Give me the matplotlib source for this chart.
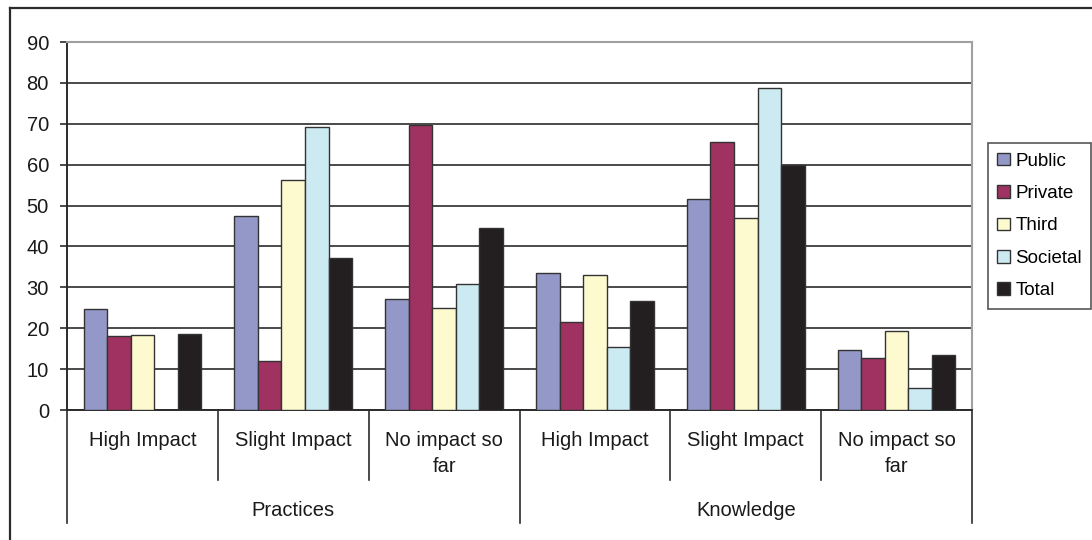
import numpy as np
import matplotlib
matplotlib.use("Agg")
import matplotlib.pyplot as plt
from matplotlib.lines import Line2D

plt.rcParams['font.family'] = ['Liberation Sans', 'DejaVu Sans']

# Data: share of respondents (%) by sector
groups = ["Practices", "Knowledge"]
categories = ["High Impact", "Slight Impact", "No impact so\nfar",
              "High Impact", "Slight Impact", "No impact so\nfar"]
series = ["Public", "Private", "Third", "Societal", "Total"]
public = [24.6, 47.4, 27.2, 33.5, 51.7, 14.6]
private = [18.0, 11.9, 69.7, 21.5, 65.6, 12.6]
third = [18.4, 56.3, 24.9, 33.1, 46.9, 19.2]
societal = [0, 69.1, 30.8, 15.3, 78.7, 5.3]
total = [18.5, 37.1, 44.4, 26.6, 59.9, 13.4]
colors = ["#9498C8", "#A03262", "#FEFACF", "#CCEAF2", "#231F20"]

W, H = 1092, 540
fig = plt.figure(figsize=(W / 100, H / 100), dpi=100)

# plot area in pixel coordinates
left, right, top, bottom = 67, 972, 42, 410
ax = fig.add_axes([left / W, (H - bottom) / H, (right - left) / W, (bottom - top) / H])

x = np.arange(len(categories))
bw = 0.156
for i, (name, vals) in enumerate(zip(series, [public, private, third, societal, total])):
    ax.bar(x + (i - 2) * bw, vals, width=bw, color=colors[i], edgecolor="#333333",
           linewidth=1.0, label=name, zorder=3)

ax.set_xlim(-0.5, len(categories) - 0.5)
ax.set_ylim(0, 90)
ax.set_yticks(range(0, 91, 10))
ax.yaxis.grid(True, color="#2b2b2b", linewidth=1.2, zorder=0)
ax.tick_params(axis="y", labelsize=14.5, length=5, width=1.2, pad=8, color="#2b2b2b",
               labelcolor="#1a1a1a")
ax.set_xticks([])

for side in ["top", "right"]:
    ax.spines[side].set_color("#a0a0a0")
    ax.spines[side].set_linewidth(1.5)
for side in ["left", "bottom"]:
    ax.spines[side].set_color("#2b2b2b")
    ax.spines[side].set_linewidth(1.4)

# two-level category axis below the plot
trans = matplotlib.transforms.blended_transform_factory(ax.transData, ax.transAxes)
inner_end = (bottom - 480) / (bottom - top)
outer_end = (bottom - 523) / (bottom - top)
for xs in [0.5, 1.5, 3.5, 4.5]:
    ax.add_line(Line2D([xs, xs], [0, inner_end], transform=trans, color="#2b2b2b",
                       linewidth=1.2, clip_on=False))
for xs in [-0.5, 2.5, 5.5]:
    ax.add_line(Line2D([xs, xs], [0, outer_end], transform=trans, color="#2b2b2b",
                       linewidth=1.2, clip_on=False))

label_top = (bottom - 431) / (bottom - top)
for xi, cat in zip(x, categories):
    ax.text(xi, label_top, cat, transform=trans, ha="center", va="top",
            fontsize=14.5, linespacing=1.45, color="#1a1a1a")

group_y = (bottom - 511) / (bottom - top)
for gi, g in enumerate(groups):
    ax.text(1 + 3 * gi, group_y, g, transform=trans, ha="center", va="center",
            fontsize=14.5, color="#1a1a1a")

# legend box at the right
leg = fig.legend(loc="center left", bbox_to_anchor=(988 / W, (H - 309) / H, 103 / W, 166 / H),
                 frameon=True, fancybox=False, fontsize=13.5,
                 handlelength=0.65, handleheight=0.65, handletextpad=0.3,
                 labelspacing=0.82, borderpad=0.5, borderaxespad=0)
leg.get_frame().set_edgecolor("#2b2b2b")
leg.get_frame().set_linewidth(1.2)

# outer chart frame (top and left edges)
fig.add_artist(Line2D([9.5 / W, 1.0], [(H - 8) / H, (H - 8) / H], transform=fig.transFigure,
                      color="#2b2b2b", linewidth=1.6))
fig.add_artist(Line2D([9.5 / W, 9.5 / W], [0, (H - 8) / H], transform=fig.transFigure,
                      color="#2b2b2b", linewidth=1.6))

fig.savefig("out.png", dpi=100, facecolor="white")
